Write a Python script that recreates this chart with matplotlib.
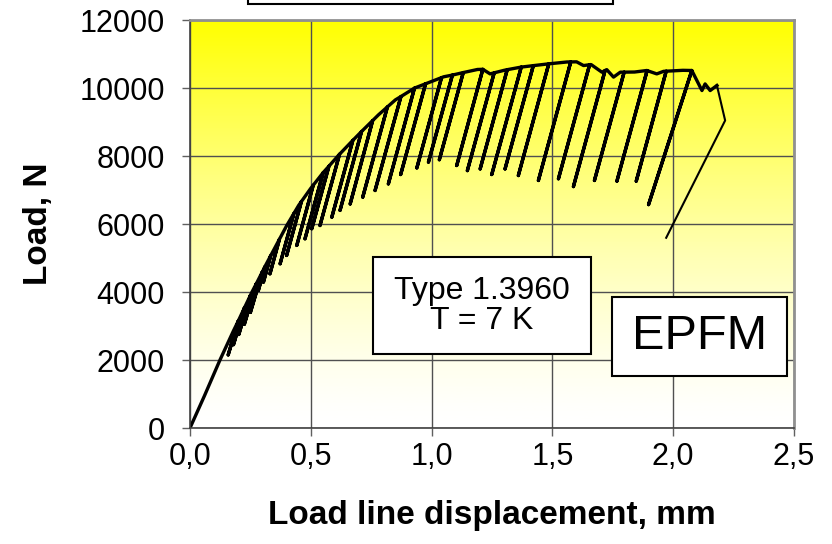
import numpy as np
import matplotlib
matplotlib.use("Agg")
import matplotlib.pyplot as plt
from matplotlib.colors import LinearSegmentedColormap
from matplotlib.patches import Rectangle

plt.rcParams['font.family'] = ['Liberation Sans', 'DejaVu Sans']

# loading envelope between the unloading cycles (mm, N)
env_x = [0.0, 0.06, 0.124, 0.18, 0.255, 0.32, 0.40, 0.45, 0.50, 0.55, 0.62,
         0.70, 0.78, 0.85, 0.93, 1.05, 1.19, 1.242, 1.30, 1.37, 1.47, 1.56,
         1.60, 1.629, 1.66, 1.705, 1.725, 1.753, 1.781, 1.84, 1.891, 1.932,
         1.96, 2.04, 2.119, 2.132, 2.153, 2.181]
env_load = [0, 950, 2000, 2860, 3980, 4880, 5950, 6550, 7050, 7500, 8060,
            8650, 9210, 9650, 10000, 10330, 10545, 10415, 10520, 10615, 10700, 10765,
            10770, 10660, 10690, 10465, 10540, 10320, 10465, 10470, 10515, 10415,
            10490, 10520, 9925, 10120, 9925, 10075]

# partial unloading cycles: start on the envelope, end at the minimum
top_x = [0.200, 0.225, 0.250, 0.275, 0.300, 0.310, 0.334, 0.370, 0.430, 0.461,
         0.510, 0.551, 0.575, 0.619, 0.674, 0.710, 0.756, 0.817, 0.873, 0.929,
         0.975, 1.041, 1.086, 1.131, 1.212, 1.259, 1.313, 1.371, 1.421, 1.485,
         1.576, 1.654, 1.718, 1.797, 1.892, 1.971, 2.077, 2.215]
top_load = [3150, 3530, 3900, 4250, 4600, 4745, 5068, 5549, 6310, 6660,
            7140, 7510, 7700, 8055, 8460, 8720, 9042, 9443, 9749, 9996,
            10124, 10305, 10380, 10454, 10550, 10446, 10539, 10615, 10658, 10711,
            10767, 10685, 10514, 10466, 10512, 10494, 10515, 9045]
bot_x = [0.158, 0.180, 0.202, 0.225, 0.250, 0.283, 0.304, 0.331, 0.373, 0.400,
         0.442, 0.476, 0.504, 0.538, 0.587, 0.621, 0.663, 0.715, 0.766, 0.821,
         0.872, 0.939, 0.987, 1.032, 1.104, 1.148, 1.201, 1.249, 1.304, 1.359,
         1.442, 1.525, 1.587, 1.674, 1.767, 1.847, 1.898, 1.971]
bot_load = [2150, 2450, 2750, 3050, 3400, 4045, 4290, 4535, 4830, 5075,
            5370, 5565, 5860, 5955, 6200, 6400, 6590, 6790, 6985, 7180,
            7455, 7650, 7820, 7890, 7720, 7570, 7620, 7455, 7620, 7425,
            7280, 7330, 7100, 7280, 7260, 7260, 6570, 5595]

x_ticks = [0.0, 0.5, 1.0, 1.5, 2.0, 2.5]
x_tick_labels = ['0,0', '0,5', '1,0', '1,5', '2,0', '2,5']
y_ticks = [0, 2000, 4000, 6000, 8000, 10000, 12000]

# walk along the envelope and drop into each cycle when its start is reached;
# the last cycle (final unloading) is kept apart
events = [(x, 0, i) for i, x in enumerate(env_x)] + [(x, 1, i) for i, x in enumerate(top_x[:-1])]
events.sort()
px, py = [], []
for x, kind, i in events:
    if kind == 0:
        px.append(env_x[i]); py.append(env_load[i])
    else:
        px += [top_x[i], bot_x[i], top_x[i]]
        py += [top_load[i], bot_load[i], top_load[i]]
fx = [env_x[-1], top_x[-1], bot_x[-1]]
fy = [env_load[-1], top_load[-1], bot_load[-1]]

fig = plt.figure(figsize=(8.32, 5.44), dpi=100)
ax = fig.add_axes([190 / 832, 116 / 544, 604 / 832, 408 / 544])

cmap = LinearSegmentedColormap.from_list('wy', ['#FFFFFF', '#FFFF00'])
grad = (np.linspace(0, 1, 256) ** 1.4).reshape(-1, 1)
ax.imshow(grad, cmap=cmap, origin='lower', extent=[0, 2.5, 0, 12000],
          aspect='auto', zorder=0, vmin=0, vmax=1)

ax.plot(px, py, color='black', lw=2.4, solid_joinstyle='round', zorder=2)
ax.plot(fx, fy, color='black', lw=1.5, zorder=2)

ax.set_xlim(0, 2.5)
ax.set_ylim(0, 12000)
ax.set_xticks(x_ticks)
ax.set_xticklabels(x_tick_labels)
ax.set_yticks(y_ticks)
ax.set_axisbelow(True)
ax.grid(True, color='#505050', lw=1.0)
ax.tick_params(direction='out', length=6, width=1, color='#606060', labelsize=22)
ax.tick_params(axis='x', pad=4)
ax.tick_params(axis='y', pad=12)
for side in ['left', 'bottom']:
    ax.spines[side].set_color('#404040')
    ax.spines[side].set_linewidth(1.2)
for side in ['top', 'right']:
    ax.spines[side].set_color('#909090')
    ax.spines[side].set_linewidth(2)

ax.set_xlabel('Load line displacement, mm', fontsize=24, fontweight='bold', labelpad=20)
ax.set_ylabel('Load, N', fontsize=24, fontweight='bold', labelpad=18)

# material / temperature note
ax.add_patch(Rectangle((0.303, 0.181), 0.361, 0.238, transform=ax.transAxes,
                       facecolor='white', edgecolor='black', lw=1.5, zorder=4))
ax.text(0.483, 0.30, 'Type 1.3960\nT = 7 K', transform=ax.transAxes,
        ha='center', va='center', fontsize=23, linespacing=1.0, zorder=5)

ax.add_patch(Rectangle((0.699, 0.127), 0.289, 0.194, transform=ax.transAxes,
                       facecolor='white', edgecolor='black', lw=1.5, zorder=4))
ax.text(0.843, 0.224, 'EPFM', transform=ax.transAxes,
        ha='center', va='center', fontsize=35, zorder=5)

# title frame running off the top edge
fig.patches.append(Rectangle((248 / 832, 1 - 4 / 544), 365 / 832, 0.2,
                             transform=fig.transFigure, facecolor='white',
                             edgecolor='black', lw=1.5))

fig.savefig('out.png', dpi=100)
